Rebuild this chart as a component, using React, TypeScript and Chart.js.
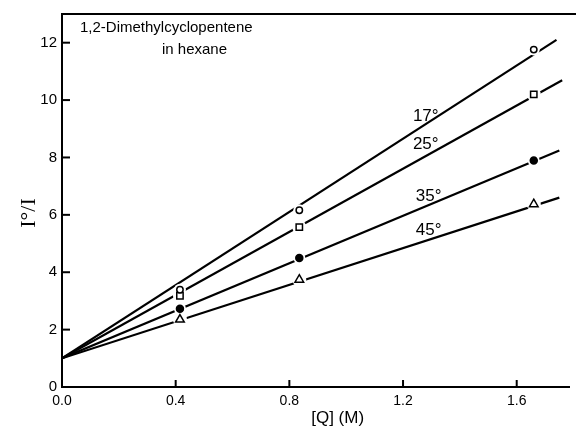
import React, { useEffect, useRef } from "react";
import { Chart, registerables } from "chart.js";

Chart.register(...registerables);

// Measured concentrations [Q] (M)
const concentrations = [0.415, 0.835, 1.66];
// I°/I values per temperature
const i17 = [3.39, 6.16, 11.76];
const i25 = [3.18, 5.57, 10.2];
const i35 = [2.73, 4.5, 7.89];
const i45 = [2.35, 3.74, 6.37];

// Fitted lines: start and end x, start and end y
const fit17X = [0, 1.74];
const fit17Y = [1, 12.1];
const fit25X = [0, 1.76];
const fit25Y = [1, 10.69];
const fit35X = [0, 1.75];
const fit35Y = [1, 8.24];
const fit45X = [0, 1.75];
const fit45Y = [1, 6.6];

const xTicks = [0, 0.4, 0.8, 1.2, 1.6];
const xTickLabels = ["0.0", "0.4", "0.8", "1.2", "1.6"];
const yTicks = [0, 2, 4, 6, 8, 10, 12];

const tempLabels = ["17°", "25°", "35°", "45°"];
const tempLabelX = [1.28, 1.28, 1.29, 1.29];
const tempLabelY = [9.45, 8.47, 6.64, 5.45];

const toPts = (xs: number[], ys: number[]) => xs.map((x, i) => ({ x, y: ys[i] }));

const customPlugin = {
  id: "customDecor",
  afterDraw(chart: any) {
    const ctx = chart.ctx;
    const { left, right, top, bottom } = chart.chartArea;
    const xs = chart.scales.x;
    const ys = chart.scales.y;
    ctx.save();
    ctx.strokeStyle = "#000";
    ctx.lineWidth = 2;
    // top frame line
    ctx.beginPath();
    ctx.moveTo(left - 1, top);
    ctx.lineTo(chart.width, top);
    ctx.stroke();
    // inward ticks
    yTicks.forEach((v) => {
      const py = ys.getPixelForValue(v);
      ctx.beginPath();
      ctx.moveTo(left, py);
      ctx.lineTo(left + 8, py);
      ctx.stroke();
    });
    xTicks.forEach((v) => {
      const px = xs.getPixelForValue(v);
      ctx.beginPath();
      ctx.moveTo(px, bottom);
      ctx.lineTo(px, bottom - 7);
      ctx.stroke();
    });
    ctx.fillStyle = "#000";
    // title
    ctx.font = "15px 'Liberation Sans', Arial, sans-serif";
    ctx.textBaseline = "middle";
    ctx.textAlign = "left";
    ctx.fillText("1,2-Dimethylcyclopentene", 80, 28);
    ctx.fillText("in hexane", 162, 50);
    // temperature labels
    ctx.font = "17px 'Liberation Sans', Arial, sans-serif";
    ctx.textAlign = "center";
    tempLabels.forEach((t, i) => {
      ctx.fillText(t, xs.getPixelForValue(tempLabelX[i]), ys.getPixelForValue(tempLabelY[i]));
    });
    // x axis title
    ctx.font = "17px 'Liberation Sans', Arial, sans-serif";
    ctx.fillText("[Q] (M)", xs.getPixelForValue(0.97), 418);
    // y axis title
    ctx.translate(29, 213);
    ctx.rotate(-Math.PI / 2);
    ctx.font = "22px 'Liberation Serif', 'DejaVu Serif', serif";
    ctx.fillText("I°/I", 0, 0);
    ctx.restore();
  },
};

export default function App() {
  const ref = useRef<HTMLCanvasElement | null>(null);
  useEffect(() => {
    document.body.style.margin = "0";
    const canvas = ref.current;
    if (!canvas) return;
    const black = "#000";
    const lineDs = (xs: number[], ys: number[]) => ({
      type: "line" as const,
      data: toPts(xs, ys),
      borderColor: black,
      borderWidth: 2.2,
      pointRadius: 0,
      showLine: true,
      fill: false,
      order: 3,
    });
    const haloDs = (ys: number[], r: number) => ({
      type: "scatter" as const,
      data: toPts(concentrations, ys),
      pointRadius: r,
      pointBackgroundColor: "#fff",
      pointBorderWidth: 0,
      pointBorderColor: "#fff",
      order: 2,
    });
    const markDs = (ys: number[], style: string, r: number, filled: boolean) => ({
      type: "scatter" as const,
      data: toPts(concentrations, ys),
      pointStyle: style,
      pointRadius: r,
      pointBackgroundColor: filled ? black : "#fff",
      pointBorderColor: black,
      pointBorderWidth: 1.5,
      order: 1,
    });
    const chart = new Chart(canvas, {
      type: "scatter",
      data: {
        datasets: [
          lineDs(fit17X, fit17Y),
          lineDs(fit25X, fit25Y),
          lineDs(fit35X, fit35Y),
          lineDs(fit45X, fit45Y),
          haloDs(i17, 6),
          haloDs(i25, 7),
          haloDs(i35, 6),
          haloDs(i45, 7),
          markDs(i17, "circle", 3.2, false),
          markDs(i25, "rect", 4.5, false),
          markDs(i35, "circle", 3.5, true),
          markDs(i45, "triangle", 5, false),
        ] as any,
      },
      options: {
        animation: false,
        responsive: false,
        maintainAspectRatio: false,
        layout: { padding: { top: 11, right: 1, left: 0, bottom: 0 } },
        plugins: { legend: { display: false }, tooltip: { enabled: false } },
        scales: {
          x: {
            type: "linear",
            min: 0,
            max: 1.784,
            grid: { display: false, drawTicks: false },
            border: { display: true, color: black, width: 2 },
            afterBuildTicks: (scale: any) => {
              scale.ticks = xTicks.map((v) => ({ value: v }));
            },
            afterFit: (scale: any) => {
              scale.height = 42;
            },
            ticks: {
              color: black,
              padding: 6,
              font: { family: "'Liberation Sans', Arial, sans-serif", size: 14 },
              callback: (v: any) => {
                const i = xTicks.findIndex((t) => Math.abs(t - v) < 1e-6);
                return i >= 0 ? xTickLabels[i] : "";
              },
            },
          },
          y: {
            type: "linear",
            min: 0,
            max: 13,
            grid: { display: false, drawTicks: false },
            border: { display: true, color: black, width: 2 },
            afterBuildTicks: (scale: any) => {
              scale.ticks = yTicks.map((v) => ({ value: v }));
            },
            afterFit: (scale: any) => {
              scale.width = 62;
            },
            ticks: {
              color: black,
              padding: 5,
              font: { family: "'Liberation Sans', Arial, sans-serif", size: 15 },
            },
          },
        },
      },
      plugins: [customPlugin],
    });
    return () => chart.destroy();
  }, []);
  return (
    <div style={{ width: 576, height: 429 }}>
      <canvas ref={ref} width={576} height={429} style={{ display: "block" }} />
    </div>
  );
}
